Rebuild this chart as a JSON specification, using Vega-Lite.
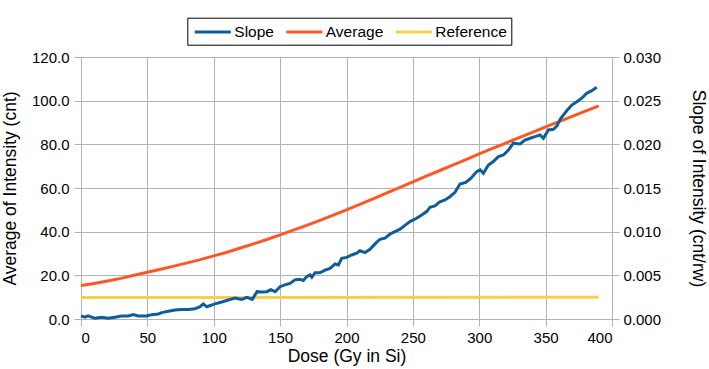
{
  "$schema": "https://vega.github.io/schema/vega-lite/v6.json",
  "width": 531,
  "height": 262,
  "autosize": {"type": "none"},
  "padding": {"left": 81, "top": 57, "right": 97, "bottom": 50},
  "background": "white",
  "config": {
    "font": "Liberation Sans",
    "view": {"stroke": null},
    "axis": {
      "labelFont": "Liberation Sans",
      "labelFontSize": 15,
      "labelColor": "#000000",
      "titleFont": "Liberation Sans",
      "titleFontSize": 17.5,
      "titleFontWeight": "normal",
      "titleColor": "#000000",
      "domainColor": "#b3b3b3",
      "tickColor": "#b3b3b3",
      "gridColor": "#b3b3b3",
      "tickSize": 7,
      "labelPadding": 4
    },
    "legend": {
      "labelFont": "Liberation Sans",
      "labelFontSize": 15.5,
      "labelColor": "#000000"
    }
  },
  "data": {
    "values": [
      {"dose": 0, "series": "Average", "value": 15.3},
      {"dose": 10, "series": "Average", "value": 16.3},
      {"dose": 20, "series": "Average", "value": 17.4},
      {"dose": 30, "series": "Average", "value": 18.6},
      {"dose": 40, "series": "Average", "value": 20.0},
      {"dose": 50, "series": "Average", "value": 21.4},
      {"dose": 60, "series": "Average", "value": 22.8},
      {"dose": 70, "series": "Average", "value": 24.2},
      {"dose": 80, "series": "Average", "value": 25.7},
      {"dose": 90, "series": "Average", "value": 27.2},
      {"dose": 100, "series": "Average", "value": 28.9},
      {"dose": 110, "series": "Average", "value": 30.6},
      {"dose": 120, "series": "Average", "value": 32.5},
      {"dose": 130, "series": "Average", "value": 34.4},
      {"dose": 140, "series": "Average", "value": 36.4},
      {"dose": 150, "series": "Average", "value": 38.5},
      {"dose": 160, "series": "Average", "value": 40.7},
      {"dose": 170, "series": "Average", "value": 42.9},
      {"dose": 180, "series": "Average", "value": 45.2},
      {"dose": 190, "series": "Average", "value": 47.6},
      {"dose": 200, "series": "Average", "value": 50.0},
      {"dose": 210, "series": "Average", "value": 52.5},
      {"dose": 220, "series": "Average", "value": 55.0},
      {"dose": 230, "series": "Average", "value": 57.6},
      {"dose": 240, "series": "Average", "value": 60.2},
      {"dose": 250, "series": "Average", "value": 62.8},
      {"dose": 260, "series": "Average", "value": 65.4},
      {"dose": 270, "series": "Average", "value": 67.9},
      {"dose": 280, "series": "Average", "value": 70.5},
      {"dose": 290, "series": "Average", "value": 73.0},
      {"dose": 300, "series": "Average", "value": 75.6},
      {"dose": 310, "series": "Average", "value": 78.1},
      {"dose": 320, "series": "Average", "value": 80.6},
      {"dose": 330, "series": "Average", "value": 83.1},
      {"dose": 340, "series": "Average", "value": 85.5},
      {"dose": 350, "series": "Average", "value": 88.0},
      {"dose": 360, "series": "Average", "value": 90.4},
      {"dose": 370, "series": "Average", "value": 92.8},
      {"dose": 380, "series": "Average", "value": 95.2},
      {"dose": 390, "series": "Average", "value": 97.6},
      {"dose": 0, "series": "Reference", "value": 9.8},
      {"dose": 390, "series": "Reference", "value": 10.0},
      {"dose": 0, "series": "Slope", "value": 0.00035},
      {"dose": 3, "series": "Slope", "value": 0.0002},
      {"dose": 5.3, "series": "Slope", "value": 0.00035},
      {"dose": 10.5, "series": "Slope", "value": 0.00008},
      {"dose": 15.5, "series": "Slope", "value": 0.0002},
      {"dose": 20.5, "series": "Slope", "value": 0.00008},
      {"dose": 25.6, "series": "Slope", "value": 0.0002},
      {"dose": 30.6, "series": "Slope", "value": 0.00035},
      {"dose": 35.6, "series": "Slope", "value": 0.00035},
      {"dose": 39.4, "series": "Slope", "value": 0.0005},
      {"dose": 43.2, "series": "Slope", "value": 0.00035},
      {"dose": 49.5, "series": "Slope", "value": 0.00035},
      {"dose": 53.2, "series": "Slope", "value": 0.0005},
      {"dose": 58.3, "series": "Slope", "value": 0.00058},
      {"dose": 60.8, "series": "Slope", "value": 0.00073},
      {"dose": 65.8, "series": "Slope", "value": 0.00088},
      {"dose": 70.8, "series": "Slope", "value": 0.00103},
      {"dose": 75.8, "series": "Slope", "value": 0.0011},
      {"dose": 80.8, "series": "Slope", "value": 0.0011},
      {"dose": 85.9, "series": "Slope", "value": 0.00118},
      {"dose": 89.6, "series": "Slope", "value": 0.0014},
      {"dose": 92.2, "series": "Slope", "value": 0.00173},
      {"dose": 94.7, "series": "Slope", "value": 0.0014},
      {"dose": 101, "series": "Slope", "value": 0.00173},
      {"dose": 106, "series": "Slope", "value": 0.00195},
      {"dose": 111, "series": "Slope", "value": 0.00218},
      {"dose": 116, "series": "Slope", "value": 0.0024},
      {"dose": 121, "series": "Slope", "value": 0.00225},
      {"dose": 125, "series": "Slope", "value": 0.00248},
      {"dose": 129, "series": "Slope", "value": 0.00225},
      {"dose": 132.6, "series": "Slope", "value": 0.00313},
      {"dose": 136.4, "series": "Slope", "value": 0.0031},
      {"dose": 140, "series": "Slope", "value": 0.00313},
      {"dose": 143, "series": "Slope", "value": 0.00335},
      {"dose": 146.3, "series": "Slope", "value": 0.00313},
      {"dose": 149.9, "series": "Slope", "value": 0.0037},
      {"dose": 153.7, "series": "Slope", "value": 0.0039},
      {"dose": 157.4, "series": "Slope", "value": 0.00408},
      {"dose": 161.2, "series": "Slope", "value": 0.00448},
      {"dose": 164.9, "series": "Slope", "value": 0.00455},
      {"dose": 167.5, "series": "Slope", "value": 0.0044},
      {"dose": 170, "series": "Slope", "value": 0.00485},
      {"dose": 172.5, "series": "Slope", "value": 0.00505},
      {"dose": 173.9, "series": "Slope", "value": 0.00478},
      {"dose": 176.3, "series": "Slope", "value": 0.0053},
      {"dose": 180, "series": "Slope", "value": 0.0053},
      {"dose": 183.8, "series": "Slope", "value": 0.0056},
      {"dose": 187.6, "series": "Slope", "value": 0.0058},
      {"dose": 191.4, "series": "Slope", "value": 0.0063},
      {"dose": 193.9, "series": "Slope", "value": 0.00618},
      {"dose": 196.4, "series": "Slope", "value": 0.00695},
      {"dose": 200.1, "series": "Slope", "value": 0.00705},
      {"dose": 203.9, "series": "Slope", "value": 0.00733},
      {"dose": 207.7, "series": "Slope", "value": 0.00753},
      {"dose": 210.1, "series": "Slope", "value": 0.00783},
      {"dose": 213.9, "series": "Slope", "value": 0.0076},
      {"dose": 217.7, "series": "Slope", "value": 0.00798},
      {"dose": 221.5, "series": "Slope", "value": 0.0086},
      {"dose": 225.2, "series": "Slope", "value": 0.00913},
      {"dose": 229, "series": "Slope", "value": 0.00925},
      {"dose": 232.8, "series": "Slope", "value": 0.00973},
      {"dose": 236.5, "series": "Slope", "value": 0.01},
      {"dose": 240.3, "series": "Slope", "value": 0.01028},
      {"dose": 242.8, "series": "Slope", "value": 0.01058},
      {"dose": 247.8, "series": "Slope", "value": 0.01115},
      {"dose": 252.8, "series": "Slope", "value": 0.01153},
      {"dose": 256.6, "series": "Slope", "value": 0.0119},
      {"dose": 260.4, "series": "Slope", "value": 0.0123},
      {"dose": 262.9, "series": "Slope", "value": 0.0128},
      {"dose": 266.6, "series": "Slope", "value": 0.01295},
      {"dose": 270.4, "series": "Slope", "value": 0.01343},
      {"dose": 274.2, "series": "Slope", "value": 0.01363},
      {"dose": 277.9, "series": "Slope", "value": 0.014},
      {"dose": 281.7, "series": "Slope", "value": 0.0145},
      {"dose": 285.5, "series": "Slope", "value": 0.01545},
      {"dose": 289.8, "series": "Slope", "value": 0.01563},
      {"dose": 293.8, "series": "Slope", "value": 0.01613},
      {"dose": 298.1, "series": "Slope", "value": 0.01688},
      {"dose": 300.6, "series": "Slope", "value": 0.01708},
      {"dose": 303.1, "series": "Slope", "value": 0.01668},
      {"dose": 306.9, "series": "Slope", "value": 0.01763},
      {"dose": 310.6, "series": "Slope", "value": 0.01803},
      {"dose": 314.4, "series": "Slope", "value": 0.0186},
      {"dose": 318.2, "series": "Slope", "value": 0.01878},
      {"dose": 322, "series": "Slope", "value": 0.01935},
      {"dose": 325.7, "series": "Slope", "value": 0.02013},
      {"dose": 330.7, "series": "Slope", "value": 0.02005},
      {"dose": 334.5, "series": "Slope", "value": 0.0205},
      {"dose": 338.3, "series": "Slope", "value": 0.0207},
      {"dose": 342, "series": "Slope", "value": 0.02088},
      {"dose": 345.8, "series": "Slope", "value": 0.02108},
      {"dose": 348.3, "series": "Slope", "value": 0.0207},
      {"dose": 352.1, "series": "Slope", "value": 0.02165},
      {"dose": 355.9, "series": "Slope", "value": 0.02173},
      {"dose": 358.4, "series": "Slope", "value": 0.0221},
      {"dose": 361.4, "series": "Slope", "value": 0.02298},
      {"dose": 365.9, "series": "Slope", "value": 0.02385},
      {"dose": 369.7, "series": "Slope", "value": 0.0245},
      {"dose": 373.5, "series": "Slope", "value": 0.02488},
      {"dose": 377.2, "series": "Slope", "value": 0.02528},
      {"dose": 381, "series": "Slope", "value": 0.02585},
      {"dose": 384.8, "series": "Slope", "value": 0.02615},
      {"dose": 388.5, "series": "Slope", "value": 0.02653}
    ]
  },
  "encoding": {
    "x": {
      "field": "dose",
      "type": "quantitative",
      "scale": {"domain": [0, 400], "nice": false},
      "axis": {
        "title": "Dose (Gy in Si)",
        "values": [0, 50, 100, 150, 200, 250, 300, 350, 400],
        "labelPadding": 4,
        "titlePadding": 2
      }
    },
    "color": {
      "field": "series",
      "type": "nominal",
      "scale": {
        "domain": ["Slope", "Average", "Reference"],
        "range": ["#0f5c9b", "#ff5726", "#f6d049"]
      },
      "legend": {
        "title": null,
        "orient": "none",
        "legendX": 106.3,
        "legendY": -39.3,
        "direction": "horizontal",
        "symbolType": "M-0.765,0H3.47",
        "symbolSize": 289,
        "symbolStrokeWidth": 3,
        "labelOffset": 23,
        "columnPadding": 5.5,
        "padding": 4,
        "strokeColor": "#000000",
        "fillColor": "#ffffff"
      }
    }
  },
  "layer": [
    {
      "transform": [{"filter": "datum.series !== 'Slope'"}],
      "mark": {"type": "line", "strokeWidth": 3},
      "encoding": {
        "y": {
          "field": "value",
          "type": "quantitative",
          "scale": {"domain": [0, 120], "nice": false},
          "axis": {
            "title": "Average of Intensity (cnt)",
            "orient": "left",
            "format": ".1f",
            "values": [0, 20, 40, 60, 80, 100, 120],
            "labelPadding": 5,
            "titlePadding": 12
          }
        }
      }
    },
    {
      "transform": [{"filter": "datum.series === 'Slope'"}],
      "mark": {"type": "line", "strokeWidth": 3},
      "encoding": {
        "y": {
          "field": "value",
          "type": "quantitative",
          "scale": {"domain": [0, 0.03], "nice": false},
          "axis": {
            "title": "Slope of Intensity (cnt/rw)",
            "orient": "right",
            "format": ".3f",
            "grid": false,
            "values": [0, 0.005, 0.01, 0.015, 0.02, 0.025, 0.03],
            "labelPadding": 4,
            "titlePadding": 28
          }
        }
      }
    }
  ],
  "resolve": {"scale": {"y": "independent"}}
}
